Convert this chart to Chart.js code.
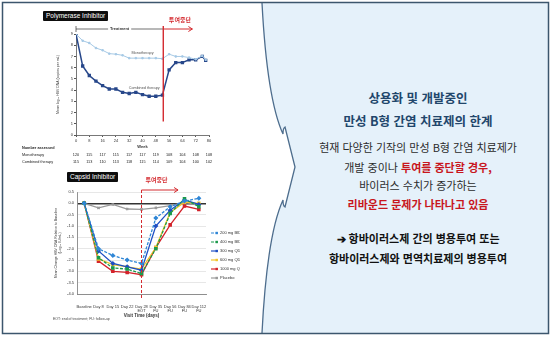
<!DOCTYPE html>
<html lang="ko">
<head>
<meta charset="utf-8">
<script src="https://cdn.jsdelivr.net/npm/chart.js@4.4.1/dist/chart.umd.min.js"></script>
<style>
  html, body { margin: 0; padding: 0; background: #fff; }
  body { width: 551px; height: 337px; position: relative; overflow: hidden; font-family: 'Noto Sans CJK KR', 'Noto Sans', sans-serif; }
  #backdrop { position: absolute; left: 0; top: 0; }
  canvas { position: absolute; }
  #chart-polymerase { left: 20px; top: 12px; }
  #chart-capsid { left: 40px; top: 175px; }
  .tag { position: absolute; background: #0d0d0d; color: #fff; font: 6.5px 'Liberation Sans', Arial, sans-serif; line-height: 10px; padding: 0 3px; border-radius: 1px; }
  .footnote { position: absolute; left: 53px; top: 317px; font: 3.5px 'Liberation Sans', Arial, sans-serif; color: #444; }
  .summary div { position: absolute; left: 298px; width: 240px; text-align: center; line-height: 18px; white-space: nowrap; }
  .headline { font-size: 12.5px; font-weight: 700; color: #21466b; }
  .body { font-size: 11px; color: #2b2b2b; }
  .alert { color: #c8161d; font-weight: 700; }
  .strong { font-size: 11px; font-weight: 700; color: #111; }
</style>
</head>
<body>
<svg id="backdrop" width="551" height="337">
  <path d="M262,3 C265,60 272,110 283,134 Q283,128 285,127 L295,167 L285,207 Q283,206 283,200 C272,224 265,274 262,333 L548,333 L548,3 Z" fill="#e5f1fa"/>
  <path d="M262,3 C265,60 272,110 283,134 Q283,128 285,127 L295,167 L285,207 Q283,206 283,200 C272,224 265,274 262,333" fill="none" stroke="#4d6d8d" stroke-width="1.3"/>
  <rect x="2.5" y="2.5" width="546" height="331" fill="none" stroke="#3c566d" stroke-width="1.5"/>
</svg>

<canvas id="chart-polymerase" width="196" height="168"></canvas>
<canvas id="chart-capsid" width="200" height="155"></canvas>

<div class="tag" style="left:43px; top:11px;">Polymerase Inhibitor</div>
<div class="tag" style="left:67px; top:172px;">Capsid Inhibitor</div>
<div class="footnote">EOT: end of treatment; FU: follow-up</div>

<div class="summary">
  <div class="headline" style="top:89px;">상용화 및 개발중인</div>
  <div class="headline" style="top:112px;">만성 B형 간염 치료제의 한계</div>
  <div class="body" style="top:138px;">현재 다양한 기작의 만성 B형 간염 치료제가</div>
  <div class="body" style="top:158px;">개발 중이나 <span class="alert">투여를 중단할 경우,</span></div>
  <div class="body" style="top:176px;">바이러스 수치가 증가하는</div>
  <div class="body alert" style="top:195px;">리바운드 문제가 나타나고 있음</div>
  <div class="strong" style="top:229px;">➔ 항바이러스제 간의 병용투여 또는</div>
  <div class="strong" style="top:249px;">항바이러스제와 면역치료제의 병용투여</div>
</div>

<script>
// Polymerase inhibitor: mean log10 HBV DNA by week
const weeks = [0, 4, 8, 12, 16, 20, 24, 28, 32, 36, 40, 44, 48, 52, 56, 60, 64, 68, 72, 76, 78];
const monotherapy = [9, 8.4, 8.2, 7.75, 7.55, 7.25, 7.2, 7.1, 6.85, 6.85, 6.85, 6.85, 6.85, 6.8, 7.2, 7.0, 7.0, 6.9, 6.75, 7.05, 6.7];
const combinedTherapy = [9, 6.15, 5.3, 4.8, 4.4, 4.1, 4.1, 3.8, 3.7, 3.8, 3.6, 3.45, 3.45, 3.55, 5.8, 6.45, 6.45, 6.7, 6.7, 7.0, 6.65];
const treatmentEndWeek = 52.5;

const tableWeeks = [0, 8, 16, 24, 32, 40, 48, 56, 64, 72, 80];
const monotherapyAssessed = [120, 115, 117, 115, 117, 117, 119, 108, 104, 108, 108];
const combinedAssessed = [115, 113, 110, 113, 118, 115, 114, 109, 104, 100, 102];

// Capsid inhibitor: mean change from baseline by visit
const visitLabels = [['Baseline'], ['Day 8'], ['Day 15'], ['Day 22'], ['Day 28', 'EOT'], ['Day 35', 'FU'], ['Day 56', 'FU'], ['Day 84', 'FU'], ['Day 112', 'FU']];
const dose200Bid = [0, -2.0, -2.3, -2.5, -2.65, -0.65, -0.15, 0.1, 0.22];
const dose400Bid = [0, -2.4, -2.85, -2.9, -3.1, -2.0, -0.45, 0.2, -0.15];
const dose300Qd = [0, -2.1, -2.65, -2.8, -2.95, -1.0, -0.3, 0.15, -0.05];
const dose600Qd = [0, -2.45, -2.7, -2.8, -2.9, -1.95, -0.4, 0.05, 0];
const dose1000Qd = [0, -2.55, -3.0, -3.05, -3.15, -1.95, -0.95, -0.12, -0.27];
const placebo = [0, -0.2, -0.05, -0.25, -0.27, -0.2, -0.1, 0.03, -0.05];
const endOfTreatmentIndex = 4;

const STOP_RED = '#d42a2f';

Chart.defaults.font.family = "'Liberation Sans', Arial, sans-serif";
Chart.defaults.color = '#333';

const drawArrow = (ctx, fromX, toX, y) => {
  ctx.beginPath();
  ctx.moveTo(fromX, y);
  ctx.lineTo(toX, y);
  ctx.stroke();
  ctx.beginPath();
  ctx.moveTo(toX - 4, y - 2.5);
  ctx.lineTo(toX, y);
  ctx.lineTo(toX - 4, y + 2.5);
  ctx.stroke();
};

const polymeraseNotes = {
  id: 'polymeraseNotes',
  afterDatasetsDraw(chart) {
    const { ctx, chartArea, scales: { x, y } } = chart;
    const stopX = x.getPixelForValue(treatmentEndWeek);
    const barY = chartArea.top - 5;

    ctx.save();
    // treatment period bracket
    ctx.strokeStyle = '#333';
    ctx.lineWidth = 0.7;
    ctx.beginPath();
    ctx.moveTo(x.getPixelForValue(0), barY - 3);
    ctx.lineTo(x.getPixelForValue(0), barY + 3);
    ctx.moveTo(x.getPixelForValue(0), barY);
    ctx.lineTo(stopX, barY);
    ctx.stroke();
    const midX = (x.getPixelForValue(0) + stopX) / 2;
    ctx.font = 'bold 4px "Liberation Sans", Arial, sans-serif';
    ctx.textAlign = 'center';
    ctx.textBaseline = 'middle';
    const labelWidth = ctx.measureText('Treatment').width + 4;
    ctx.fillStyle = '#fff';
    ctx.fillRect(midX - labelWidth / 2, barY - 3, labelWidth, 6);
    ctx.fillStyle = '#333';
    ctx.fillText('Treatment', midX, barY);

    // stop of dosing
    ctx.strokeStyle = STOP_RED;
    ctx.lineWidth = 1.4;
    ctx.beginPath();
    ctx.moveTo(stopX, barY - 3);
    ctx.lineTo(stopX, y.getPixelForValue(1.2));
    ctx.stroke();
    ctx.lineWidth = 1;
    drawArrow(ctx, stopX, x.getPixelForValue(70), barY);
    ctx.fillStyle = STOP_RED;
    ctx.font = 'bold 6px "Noto Sans CJK KR", sans-serif';
    ctx.fillText('투여중단', x.getPixelForValue(62.5), barY - 9);

    // series notes
    ctx.fillStyle = '#555';
    ctx.font = '3.8px "Liberation Sans", Arial, sans-serif';
    ctx.fillText('Monotherapy', x.getPixelForValue(40), y.getPixelForValue(7.35));
    ctx.fillText('Combined therapy', x.getPixelForValue(41), y.getPixelForValue(4.15));

    // number assessed table
    const rowY = chartArea.bottom + 13;
    ctx.textAlign = 'left';
    ctx.fillStyle = '#222';
    ctx.font = 'bold 3.8px "Liberation Sans", Arial, sans-serif';
    ctx.fillText('Number assessed', 2, rowY);
    ctx.font = '3.8px "Liberation Sans", Arial, sans-serif';
    ctx.fillText('Monotherapy', 2, rowY + 7);
    ctx.fillText('Combined therapy', 2, rowY + 14);
    ctx.textAlign = 'center';
    tableWeeks.forEach((week, i) => {
      ctx.fillText(String(monotherapyAssessed[i]), x.getPixelForValue(week), rowY + 7);
      ctx.fillText(String(combinedAssessed[i]), x.getPixelForValue(week), rowY + 14);
    });
    ctx.restore();
  },
};

const capsidNotes = {
  id: 'capsidNotes',
  afterDatasetsDraw(chart) {
    const { ctx, chartArea, scales: { x } } = chart;
    const stopX = x.getPixelForValue(endOfTreatmentIndex);
    const arrowY = chartArea.top - 2;

    ctx.save();
    ctx.strokeStyle = STOP_RED;
    ctx.lineWidth = 1;
    ctx.setLineDash([3, 2]);
    ctx.beginPath();
    ctx.moveTo(stopX, arrowY);
    ctx.lineTo(stopX, chartArea.bottom + 6);
    ctx.stroke();
    ctx.setLineDash([]);
    drawArrow(ctx, stopX, x.getPixelForValue(6.55), arrowY);
    ctx.fillStyle = STOP_RED;
    ctx.font = 'bold 6px "Noto Sans CJK KR", sans-serif';
    ctx.textAlign = 'center';
    ctx.textBaseline = 'middle';
    ctx.fillText('투여중단', x.getPixelForValue(5.05), arrowY - 10);

    // legend at the right of the plot
    ctx.textAlign = 'left';
    ctx.font = '4px "Liberation Sans", Arial, sans-serif';
    chart.data.datasets.forEach((dataset, i) => {
      const rowY = chartArea.top + 41 + i * 9;
      const lineX = chartArea.right + 5;
      ctx.strokeStyle = dataset.borderColor;
      ctx.lineWidth = 1.2;
      ctx.setLineDash(dataset.borderDash || []);
      ctx.beginPath();
      ctx.moveTo(lineX, rowY);
      ctx.lineTo(lineX + 7, rowY);
      ctx.stroke();
      ctx.setLineDash([]);
      ctx.fillStyle = dataset.borderColor;
      ctx.fillRect(lineX + 4.5, rowY - 1.2, 2.4, 2.4);
      ctx.fillStyle = '#333';
      ctx.fillText(dataset.label, lineX + 9, rowY);
    });
    ctx.restore();
  },
};

const toPoints = (values) => weeks.map((week, i) => ({ x: week, y: values[i] }));

const capsidSeries = (label, data, color, pointStyle, dashed) => ({
  label: label,
  data: data,
  borderColor: color,
  backgroundColor: color,
  borderWidth: 1.3,
  borderDash: dashed ? [3, 1.5] : [],
  pointStyle: pointStyle,
  pointRadius: 1.6,
  tension: 0,
});

const initializePolymeraseChart = () => {
  new Chart(document.querySelector('#chart-polymerase'), {
    type: 'line',
    data: {
      datasets: [
        {
          label: 'Monotherapy',
          data: toPoints(monotherapy),
          borderColor: '#a6c9e5',
          backgroundColor: '#a6c9e5',
          borderWidth: 1,
          pointStyle: 'rect',
          pointRadius: 1,
        },
        {
          label: 'Combined therapy',
          data: toPoints(combinedTherapy),
          borderColor: '#27478a',
          backgroundColor: '#27478a',
          borderWidth: 1.5,
          pointStyle: 'rect',
          pointRadius: 1.3,
        },
      ],
    },
    options: {
      responsive: false,
      animation: false,
      layout: { padding: { left: 36, top: 22, right: 7, bottom: 31 } },
      plugins: { legend: { display: false }, tooltip: { enabled: false } },
      scales: {
        x: {
          type: 'linear',
          min: 0,
          max: 80,
          ticks: { stepSize: 8, font: { size: 4 }, padding: 1, maxRotation: 0 },
          grid: { drawOnChartArea: false, tickLength: 2, color: '#555' },
          border: { color: '#555', width: 0.8 },
          title: { display: true, text: 'Week', font: { size: 4, weight: 'bold' }, padding: 0 },
          afterFit: (scale) => { scale.height = 14; },
        },
        y: {
          min: 0,
          max: 9,
          ticks: { stepSize: 1, font: { size: 4 }, padding: 1 },
          grid: { drawOnChartArea: false, tickLength: 2, color: '#555' },
          border: { color: '#555', width: 0.8 },
          title: { display: true, text: 'Mean log₁₀ HBV DNA (copies per mL)', font: { size: 3.5 }, padding: 0 },
          afterFit: (scale) => { scale.width = 20; },
        },
      },
    },
    plugins: [polymeraseNotes],
  });
};

const initializeCapsidChart = () => {
  new Chart(document.querySelector('#chart-capsid'), {
    type: 'line',
    data: {
      labels: visitLabels,
      datasets: [
        capsidSeries('200 mg BID', dose200Bid, '#2f86d6', 'rectRot', true),
        capsidSeries('400 mg BID', dose400Bid, '#1b9a4c', 'rect', true),
        capsidSeries('300 mg QD', dose300Qd, '#1f4fc4', 'rectRot', false),
        capsidSeries('600 mg QD', dose600Qd, '#f2c42c', 'rect', false),
        capsidSeries('1000 mg QD', dose1000Qd, '#d3232b', 'rect', false),
        capsidSeries('Placebo', placebo, '#9a9a9a', 'crossRot', false),
      ],
    },
    options: {
      responsive: false,
      animation: false,
      layout: { padding: { left: 14, top: 17, right: 34, bottom: 12 } },
      plugins: { legend: { display: false }, tooltip: { enabled: false } },
      scales: {
        x: {
          offset: true,
          ticks: { font: { size: 4 }, padding: 2, maxRotation: 0, autoSkip: false },
          grid: { display: false },
          border: { color: '#777', width: 0.8 },
          title: { display: true, text: 'Visit Time (days)', font: { size: 4.5, weight: 'bold' }, padding: 0 },
          afterFit: (scale) => { scale.height = 24; },
        },
        y: {
          min: -4,
          max: 0.5,
          ticks: { stepSize: 0.5, font: { size: 4 }, padding: 3, callback: (value) => value.toFixed(1) },
          grid: {
            drawTicks: false,
            color: (context) => (context.tick && context.tick.value === 0 ? '#333' : '#dcdcdc'),
            lineWidth: (context) => (context.tick && context.tick.value === 0 ? 1.4 : 0.7),
          },
          border: { color: '#777', width: 0.8 },
          title: {
            display: true,
            text: ['Mean Change HBV DNA Relative to Baseline', '(Log₁₀ IU/mL)'],
            font: { size: 3.5 },
            padding: 0,
          },
          afterFit: (scale) => { scale.width = 23; },
        },
      },
    },
    plugins: [capsidNotes],
  });
};

document.addEventListener('DOMContentLoaded', () => {
  initializePolymeraseChart();
  initializeCapsidChart();
});
</script>
</body>
</html>
